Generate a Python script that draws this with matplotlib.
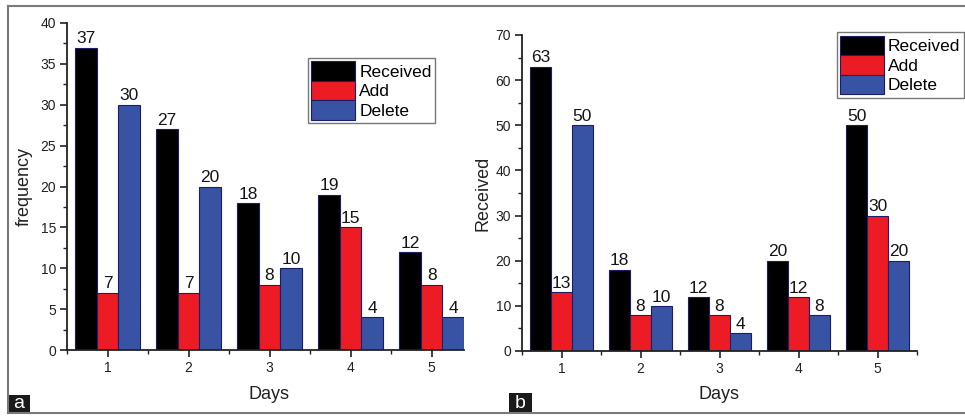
import matplotlib
matplotlib.use("Agg")
import matplotlib.pyplot as plt
import numpy as np
from matplotlib.patches import Patch, Rectangle
from matplotlib.lines import Line2D
from matplotlib.ticker import MultipleLocator

plt.rcParams['font.family'] = ['Liberation Sans', 'DejaVu Sans']

days = [1, 2, 3, 4, 5]
series_names = ["Received", "Add", "Delete"]

# panel a: frequency per day
a_received = [37, 27, 18, 19, 12]
a_add = [7, 7, 8, 15, 8]
a_delete = [30, 20, 10, 4, 4]

# panel b: received per day
b_received = [63, 18, 12, 20, 50]
b_add = [13, 8, 8, 12, 30]
b_delete = [50, 10, 4, 8, 20]

colors = ["#000000", "#ED1C24", "#3853A4"]
edge = "#1c1c6a"
bar_w = 0.265

fig = plt.figure(figsize=(9.65, 4.16), dpi=100)
W, H = 965, 416


def px_axes(x0, y_top, x1, y_bot):
    return fig.add_axes([x0 / W, 1 - y_bot / H, (x1 - x0) / W, (y_bot - y_top) / H])


def draw_panel(ax, series, ylim, ymajor, yminor, xlim, ylabel, leg_anchor):
    x = np.array(days, dtype=float)
    handles = []
    for i, (vals, col, name) in enumerate(zip(series, colors, series_names)):
        pos = x + (i - 1) * bar_w
        ax.bar(pos, vals, width=bar_w, color=col, edgecolor=edge, linewidth=0.8, zorder=2)
        for p, v in zip(pos, vals):
            ax.text(p, v + ylim[1] * 0.004, str(v), ha="center", va="bottom",
                    fontsize=12.5, color="#151515", zorder=3)
        handles.append(Patch(facecolor=col, edgecolor=edge, linewidth=0.8, label=name))
    ax.set_xlim(*xlim)
    ax.set_ylim(*ylim)
    ax.set_xticks(days)
    ax.xaxis.set_minor_locator(MultipleLocator(0.5))
    ax.yaxis.set_major_locator(MultipleLocator(ymajor))
    ax.yaxis.set_minor_locator(MultipleLocator(yminor))
    for s in ["top", "right"]:
        ax.spines[s].set_visible(False)
    for s in ["left", "bottom"]:
        ax.spines[s].set_linewidth(1.3)
        ax.spines[s].set_color("#222222")
    ax.tick_params(which="major", direction="out", length=5, width=1.2,
                   labelsize=10, colors="#222222", pad=3)
    ax.tick_params(which="minor", direction="out", length=3, width=1.0, colors="#222222")
    ax.set_xlabel("Days", fontsize=13, color="#222222")
    ax.set_ylabel(ylabel, fontsize=13, color="#222222")
    leg = ax.legend(handles=handles, loc="upper left", bbox_to_anchor=leg_anchor,
                    borderaxespad=0, fontsize=12.5, frameon=True, fancybox=False,
                    framealpha=1, edgecolor="#777777", handlelength=2.5,
                    handleheight=1.35, labelspacing=0.0, handletextpad=0.25,
                    borderpad=0.2)
    leg.get_frame().set_linewidth(1.0)


ax_a = px_axes(67, 23, 464, 350)
draw_panel(ax_a, [a_received, a_add, a_delete], (0, 40), 5, 2.5, (0.5, 5.4),
           "frequency", (0.607, 0.893))
ax_a.yaxis.set_label_coords(-0.086, 0.5)
ax_a.xaxis.set_label_coords(0.51, -0.11)

ax_b = px_axes(522, 35, 917, 351)
draw_panel(ax_b, [b_received, b_add, b_delete], (0, 70), 10, 5, (0.5, 5.5),
           "Received", (0.797, 1.009))
ax_b.yaxis.set_label_coords(-0.076, 0.5)
ax_b.xaxis.set_label_coords(0.5, -0.111)

# outer frame (top, left, bottom)
frame_col = "#7a7a7a"
fx0, fy0, fy1 = 7.5 / W, 1 - 413 / H, 1 - 5.5 / H
fig.add_artist(Line2D([fx0, 1], [fy1, fy1], transform=fig.transFigure, color=frame_col, lw=1.5))
fig.add_artist(Line2D([fx0, 1], [fy0, fy0], transform=fig.transFigure, color=frame_col, lw=1.5))
fig.add_artist(Line2D([fx0, fx0], [fy0, fy1], transform=fig.transFigure, color=frame_col, lw=1.5))

# panel letters in black boxes
for letter, bx0, bx1, by0 in [("a", 8, 30, 395), ("b", 509, 532, 393)]:
    fig.add_artist(Rectangle((bx0 / W, 1 - 413 / H), (bx1 - bx0) / W, (413 - by0) / H,
                             transform=fig.transFigure, facecolor="#1a1a1a",
                             edgecolor="none"))
    fig.text((bx0 + bx1) / 2 / W, (1 - 413 / H + 1 - by0 / H) / 2, letter,
             ha="center", va="center", color="white", fontsize=14)

fig.savefig("out.png", dpi=100)
